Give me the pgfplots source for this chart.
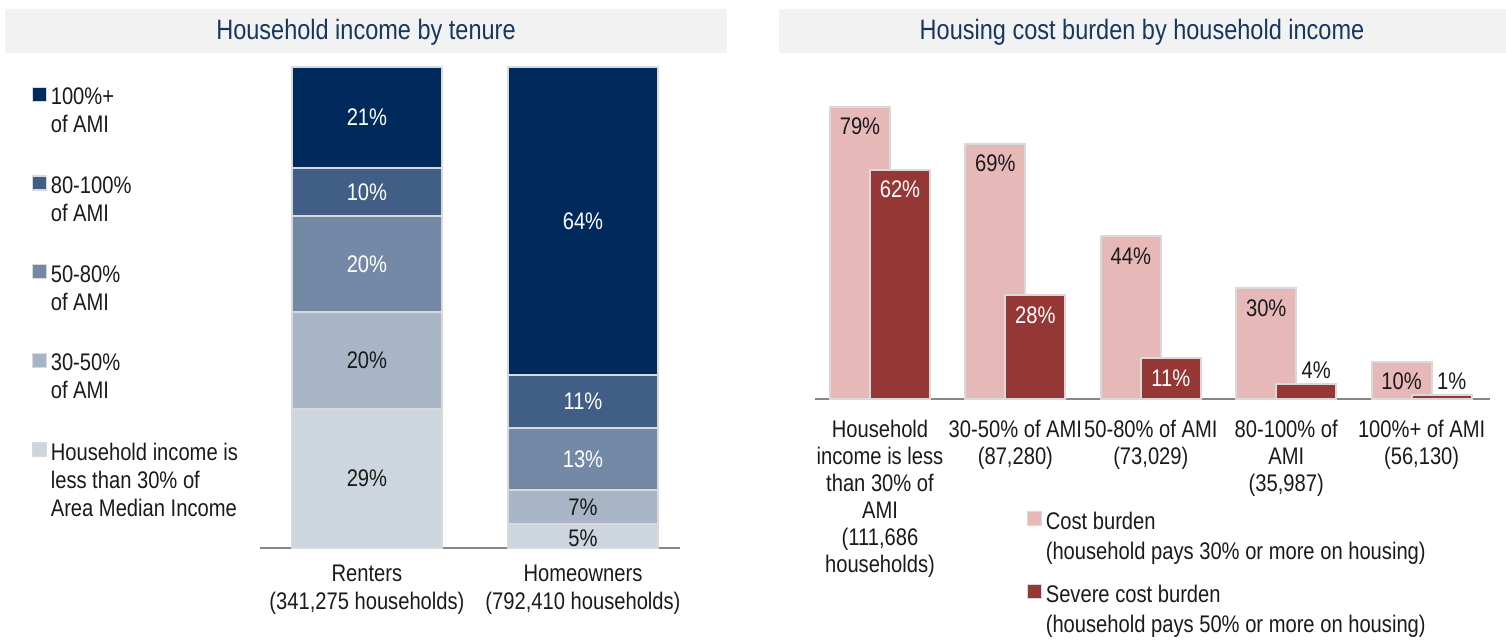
\documentclass[border=0pt]{standalone}
\usepackage{pgfplots}
\pgfplotsset{compat=1.18}
\usepackage{fontspec}
\setmainfont{Liberation Sans}[FakeStretch=0.84]

\definecolor{titlebg}{HTML}{F2F2F2}
\definecolor{titlefg}{HTML}{17375E}
\definecolor{amiA}{HTML}{CDD5DF}
\definecolor{amiB}{HTML}{A8B5C7}
\definecolor{amiC}{HTML}{7489A6}
\definecolor{amiD}{HTML}{405E86}
\definecolor{amiE}{HTML}{002A5C}
\definecolor{cost}{HTML}{E6B9B8}
\definecolor{severe}{HTML}{953735}
\definecolor{edge}{HTML}{D9D9D9}
\definecolor{baseline}{HTML}{868686}
\definecolor{ink}{HTML}{1A1A1A}

% square legend marker, level with the first line of its entry
\pgfplotsset{sqlegend/.style={
  legend image code/.code={
    \draw[##1, line width=0.6pt] (0pt,-8.9pt) rectangle (7pt,-1.9pt);}}}

\begin{document}
\fontsize{12}{14}\selectfont
\begin{tikzpicture}[text=ink]
\useasboundingbox (0,0) rectangle (753pt,321pt);
\fill[titlebg] (2.5pt,294.5pt) rectangle (363.5pt,316.5pt);
\fill[titlebg] (389.5pt,294.5pt) rectangle (753pt,316.5pt);
\node[text=titlefg, font=\fontsize{14}{16}\selectfont] at (183pt,305pt) {Household income by tenure};
\node[text=titlefg, font=\fontsize{14}{16}\selectfont] at (571pt,305pt) {Housing cost burden by household income};

% household income by tenure (stacked)
\begin{axis}[
  at={(130pt,47pt)}, anchor=south west,
  width=210pt, height=240.5pt, scale only axis,
  xmin=-0.495, xmax=1.449, ymin=0, ymax=100,
  ybar stacked, bar width=75pt,
  axis x line*=bottom, axis y line=none,
  x axis line style={draw=baseline, line width=1pt},
  xtick={0,1},
  xticklabels={{Renters\\(341,275 households)},{Homeowners\\(792,410 households)}},
  xticklabel style={align=center, yshift=-4.5pt},
  major tick length=0pt,
  every axis plot/.append style={draw=edge, line width=1pt},
  legend style={at={(-0.559,0.975)}, anchor=north west, draw=none, fill=none,
    row sep=16pt, cells={anchor=north west, align=left}},
  reverse legend, sqlegend,
  clip=false,
]
\addplot[fill=amiA] coordinates {(0,29) (1,5)};
\addlegendentry{Household income is\\less than 30\% of\\Area Median Income}
\addplot[fill=amiB] coordinates {(0,20) (1,7)};
\addlegendentry{30-50\%\\of AMI}
\addplot[fill=amiC] coordinates {(0,20) (1,13)};
\addlegendentry{50-80\%\\of AMI}
\addplot[fill=amiD] coordinates {(0,10) (1,11)};
\addlegendentry{80-100\%\\of AMI}
\addplot[fill=amiE] coordinates {(0,21) (1,64)};
\addlegendentry{100\%+\\of AMI}
\end{axis}

% segment labels, at the middle of each segment
\begin{axis}[
  at={(130pt,47pt)}, anchor=south west,
  width=210pt, height=240.5pt, scale only axis,
  xmin=-0.495, xmax=1.449, ymin=0, ymax=100,
  hide axis, clip=false,
  point meta=explicit symbolic,
]
\addplot[draw=none, mark=none, nodes near coords,
  every node near coord/.append style={anchor=center, text=white}]
  coordinates {(0,89.5)[21\%] (0,74)[10\%] (0,59)[20\%] (1,68)[64\%] (1,30.5)[11\%] (1,18.5)[13\%]};
\addplot[draw=none, mark=none, nodes near coords,
  every node near coord/.append style={anchor=center, text=ink}]
  coordinates {(0,39)[20\%] (0,14.5)[29\%] (1,8.5)[7\%] (1,2)[5\%]};
\end{axis}

% housing cost burden by household income
\begin{axis}[
  at={(407.5pt,121.65pt)}, anchor=south west,
  width=337.5pt, height=147.85pt, scale only axis,
  xmin=-0.48, xmax=4.505, ymin=0, ymax=80,
  ybar, bar width=30pt,
  axis x line*=bottom, axis y line=none,
  x axis line style={draw=baseline, line width=1pt},
  xtick={0,1,2,3,4},
  xticklabels={{Household\\income is less\\than 30\% of\\AMI\\(111,686\\households)},
    {30-50\% of AMI\\(87,280)},{50-80\% of AMI\\(73,029)},
    {80-100\% of\\AMI\\(35,987)},{100\%+ of AMI\\(56,130)}},
  xticklabel style={align=center, yshift=-6.5pt, font=\fontsize{12}{13.5}\selectfont},
  major tick length=0pt,
  every axis plot/.append style={draw=edge, line width=1pt},
  /pgf/number format/assume math mode=true,
  nodes near coords={\pgfmathprintnumber{\pgfplotspointmeta}\%},
  legend style={at={(0.304,-0.353)}, anchor=north west, draw=none, fill=none,
    row sep=7pt, font=\fontsize{12}{15}\selectfont,
    cells={anchor=north west, align=left}},
  sqlegend,
  clip=false,
]
\addplot[fill=cost, bar shift=-10pt,
  every node near coord/.append style={anchor=center, yshift=-10pt, text=ink}]
  coordinates {(0,79) (1,69) (2,44) (3,30) (4,10)};
\addlegendentry{Cost burden\\(household pays 30\% or more on housing)}
\addplot[fill=severe, bar shift=10pt,
  every node near coord/.append style={anchor=center, yshift=-10pt, text=white}]
  coordinates {(0,62) (1,28) (2,11)};
\addlegendentry{Severe cost burden\\(household pays 50\% or more on housing)}
\addplot[fill=severe, bar shift=10pt, forget plot,
  every node near coord/.append style={anchor=center, yshift=7pt, xshift=5pt, text=ink}]
  coordinates {(3,4) (4,1)};
\end{axis}
\end{tikzpicture}
\end{document}
